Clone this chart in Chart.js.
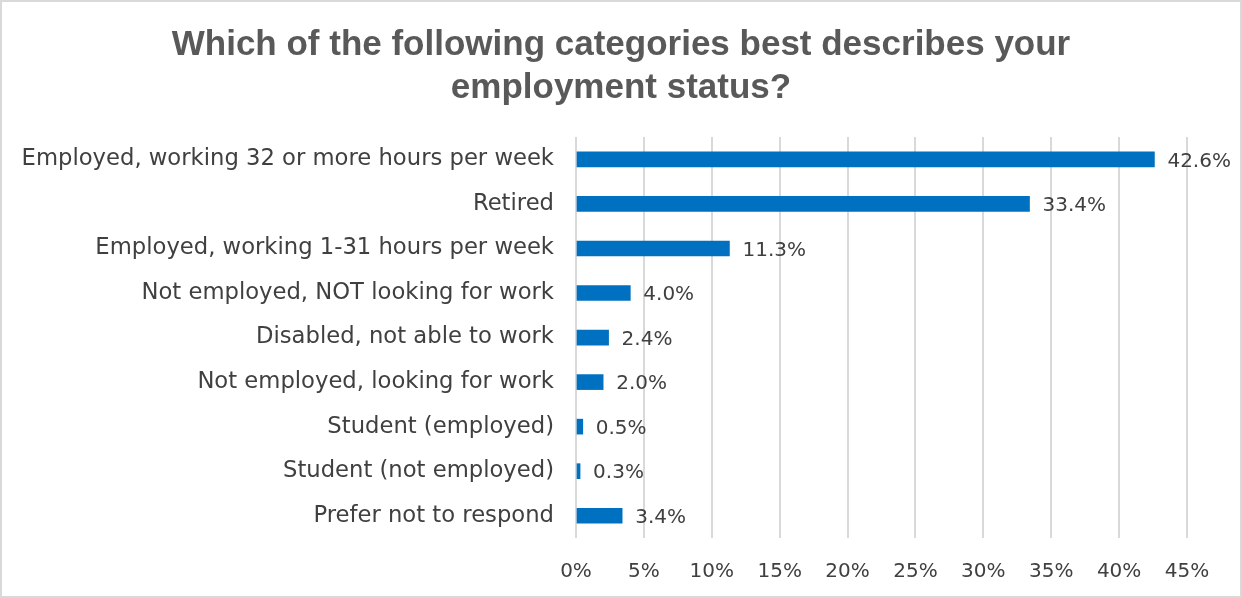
<!DOCTYPE html>
<html>
<head>
<meta charset="utf-8">
<script src="https://cdn.jsdelivr.net/npm/chart.js@4"></script>
<style>
  html, body { margin: 0; padding: 0; background: #fff; }
  #box {
    width: 1242px; height: 598px; box-sizing: border-box;
    border: 2px solid #d9d9d9; background: #fff;
  }
</style>
</head>
<body>
<div id="box"><canvas id="chart" width="1238" height="594"></canvas></div>
<script>
// ---- data ----
const categories = [
  "Employed, working 32 or more hours per week",
  "Retired",
  "Employed, working 1-31 hours per week",
  "Not employed, NOT looking for work",
  "Disabled, not able to work",
  "Not employed, looking for work",
  "Student (employed)",
  "Student (not employed)",
  "Prefer not to respond"
];
const shares = [42.6, 33.4, 11.3, 4.0, 2.4, 2.0, 0.5, 0.3, 3.4];
const xTicks = [0, 5, 10, 15, 20, 25, 30, 35, 40, 45];

const FONT = "'DejaVu Sans', sans-serif";

// value labels to the right of each bar
const barLabels = {
  id: "barLabels",
  afterDatasetsDraw(chart) {
    const ctx = chart.ctx;
    const meta = chart.getDatasetMeta(0);
    ctx.save();
    ctx.font = "20px " + FONT;
    ctx.fillStyle = "#404040";
    ctx.textAlign = "left";
    ctx.textBaseline = "middle";
    meta.data.forEach((bar, i) => {
      ctx.fillText(shares[i].toFixed(1) + "%", bar.x + 13, bar.y + 2);
    });
    ctx.restore();
  }
};

// center the title on the whole canvas, not on the padded box
const titleCenter = {
  id: "titleCenter",
  afterLayout(chart) {
    if (chart.titleBlock) chart.titleBlock.right = chart.width;
  }
};

new Chart(document.getElementById("chart"), {
  type: "bar",
  data: {
    labels: categories,
    datasets: [{
      data: shares,
      backgroundColor: "#0070C0",
      barThickness: 15
    }]
  },
  plugins: [barLabels, titleCenter],
  options: {
    indexAxis: "y",
    responsive: false,
    animation: false,
    layout: { padding: { left: 0, right: 53, top: 0, bottom: 0 } },
    plugins: {
      legend: { display: false },
      tooltip: { enabled: false },
      title: {
        display: true,
        text: ["Which of the following categories best describes your", "employment status?"],
        color: "#595959",
        font: { family: "'Liberation Sans', Arial, sans-serif", size: 35, weight: "bold", lineHeight: 1.23 },
        padding: { top: 22, bottom: 27 }
      }
    },
    scales: {
      x: {
        min: 0,
        max: 45,
        afterBuildTicks: scale => { scale.ticks = xTicks.map(v => ({ value: v })); },
        afterFit: scale => { scale.height = 58; },
        grid: { color: "#d9d9d9", lineWidth: 2, drawTicks: false },
        border: { display: false },
        ticks: {
          padding: 22,
          color: "#404040",
          font: { family: FONT, size: 20 },
          callback: v => v + "%"
        }
      },
      y: {
        afterFit: scale => { scale.width = 574; },
        grid: { display: false, drawTicks: false },
        border: { display: false },
        ticks: {
          padding: 22,
          color: "#404040",
          font: { family: FONT, size: 22.7 }
        }
      }
    }
  }
});
</script>
</body>
</html>
